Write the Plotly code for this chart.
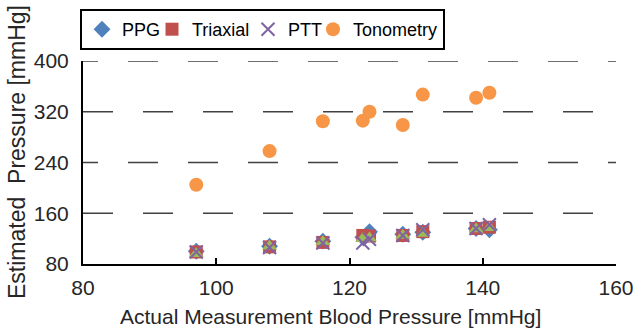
import plotly.graph_objects as go

# Data
actual_bp = [97, 108, 116, 122, 123, 128, 131, 139, 141]
ppg = [100, 108, 116, 122, 131, 127, 130, 136, 134]
triaxial = [99, 107, 114, 125, 124, 125, 131, 136, 138]
ptt = [99, 106, 113, 113, 119, 125, 134, 136, 142]
reference = [96, 108, 115, 120, 121, 125, 128, 135, 137]
tonometry = [205, 258, 305, 306, 320, 299, 347, 342, 350]

x_ticks = [80, 100, 120, 140, 160]
y_ticks = [80, 160, 240, 320, 400]

FONT = "Liberation Sans, Arial, sans-serif"

fig = go.Figure()
fig.add_trace(go.Scatter(x=actual_bp, y=ppg, mode="markers", name="PPG", legendwidth=25,
                         marker=dict(symbol="diamond", size=13, color="#4F81BD")))
fig.add_trace(go.Scatter(x=actual_bp, y=triaxial, mode="markers", name="Triaxial", legendwidth=51,
                         marker=dict(symbol="square", size=13, color="#C0504D")))
fig.add_trace(go.Scatter(x=actual_bp, y=reference, mode="markers", name="Reference",
                         showlegend=False,
                         marker=dict(symbol="triangle-up", size=13, color="#9BBB59")))
fig.add_trace(go.Scatter(x=actual_bp, y=ptt, mode="markers", name="PTT", legendwidth=20,
                         marker=dict(symbol="x-thin", size=13, color="#8064A2",
                                     line=dict(width=2, color="#8064A2"))))
fig.add_trace(go.Scatter(x=actual_bp, y=tonometry, mode="markers", name="Tonometry",
                         marker=dict(symbol="circle", size=14, color="#F79646")))

# Dashed horizontal grid lines (the reference's dashes are not all in the same phase)
grid_dashes = {160: "30px,30px", 240: "15px,30px,15px,0px",
               320: "30px,30px", 400: "15px,30px,15px,0px"}
shapes = []
for yv in y_ticks[1:]:
    shapes.append(dict(type="line", xref="paper", yref="y", x0=0, x1=1, y0=yv, y1=yv,
                       layer="below",
                       line=dict(color="#404040", width=1.5, dash=grid_dashes[yv])))

fig.update_layout(
    width=635, height=329,
    margin=dict(l=83, r=19, t=61, b=65),
    paper_bgcolor="white", plot_bgcolor="white",
    font=dict(family=FONT, size=21, color="#262626"),
    legend=dict(orientation="h", xref="container", yref="container",
                x=80 / 635, y=1 - 9 / 329, xanchor="left", yanchor="top",
                bordercolor="black", borderwidth=2, bgcolor="white",
                font=dict(size=18, color="#000000")),
    xaxis=dict(range=[80, 160], tickvals=x_ticks, showline=True, linecolor="black",
               linewidth=2, ticks="inside", ticklen=6, tickwidth=1.5, tickcolor="black",
               showgrid=False, zeroline=False, automargin=False, ticklabelstandoff=4),
    yaxis=dict(range=[80, 400], tickvals=y_ticks, showline=True, linecolor="black",
               linewidth=2, showgrid=False, zeroline=False, ticks="",
               ticklabelstandoff=8, automargin=False),
    shapes=shapes,
    annotations=[
        dict(text="Estimated  Pressure [mmHg]", textangle=-90,
             xref="paper", yref="paper", x=(17 - 83) / 533, y=(264 - 152) / 203,
             xanchor="center", yanchor="middle", showarrow=False,
             font=dict(size=23)),
        dict(text="Actual Measurement Blood Pressure [mmHg]",
             xref="paper", yref="paper", x=(330 - 83) / 533, y=(264 - 316) / 203,
             xanchor="center", yanchor="middle", showarrow=False,
             font=dict(size=21)),
    ],
)

fig.write_html("out.html", config={"displayModeBar": False},
               post_script="document.body.style.margin='0';")
